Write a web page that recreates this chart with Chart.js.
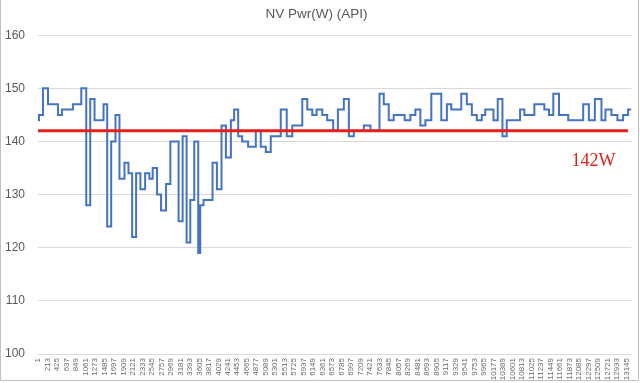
<!DOCTYPE html>
<html>
<head>
<meta charset="utf-8">
<script src="https://cdn.jsdelivr.net/npm/chart.js@4"></script>
<style>
  html, body { margin: 0; padding: 0; background: #ffffff; }
  #wrap { width: 640px; height: 383px; position: relative; }
</style>
</head>
<body>
<div id="wrap"><canvas id="c" width="640" height="383"></canvas></div>
<script>
// ---- data ----
const chartTitle = 'NV Pwr(W) (API)';
// sample index where each power level begins
const stepStarts = [
  1, 23, 112, 224, 447, 536, 781, 968, 1079, 1168,
  1264, 1465, 1547, 1636, 1732, 1821, 1933, 2022, 2104, 2193,
  2289, 2394, 2490, 2563, 2661, 2750, 2862, 2958, 3142, 3232,
  3321, 3403, 3492, 3581, 3626, 3699, 3900, 3998, 4101, 4199,
  4310, 4383, 4473, 4562, 4695, 4867, 4978, 5090, 5201, 5424,
  5558, 5682, 5905, 6017, 6128, 6226, 6351, 6462, 6596, 6701,
  6834, 6946, 7057, 7280, 7429, 7630, 7726, 7837, 7948, 8193,
  8320, 8432, 8543, 8655, 8788, 9011, 9136, 9234, 9457, 9581,
  9693, 9804, 9916, 9992, 10176, 10272, 10377, 10473, 10771, 10867,
  11090, 11313, 11417, 11513, 11640, 11847, 12181, 12308, 12442, 12589,
  12678, 12812, 12946, 13073, 13184
];
// power (W) of each level
const stepValues = [
  144, 145, 150, 147, 145, 146, 147, 150, 128, 148,
  144, 147, 124, 140, 145, 133, 136, 134, 122, 134,
  131, 134, 133, 135, 130, 127, 132, 140, 125, 141,
  121, 129, 140, 119, 128, 129, 136, 131, 143, 137,
  144, 146, 141, 140, 139, 142, 139, 138, 141, 146,
  141, 143, 148, 146, 145, 146, 145, 144, 142, 146,
  148, 141, 142, 143, 142, 149, 147, 144, 145, 144,
  145, 146, 143, 144, 149, 144, 147, 146, 149, 147,
  145, 144, 145, 146, 144, 148, 141, 144, 146, 145,
  147, 146, 145, 149, 145, 144, 147, 144, 148, 144,
  146, 145, 144, 145, 146
];
const lastSample = 13258;
// x tick labels (every 212 samples)
const tickLabels = [];
for (let v = 1; v <= 13145; v += 212) tickLabels.push(v);
const yTicks = [100, 110, 120, 130, 140, 150, 160];
const refLineValue = 142;
const refLineLabel = refLineValue + 'W';

// ---- build series ----
const seriesPts = stepStarts.map((x, i) => ({ x: x, y: stepValues[i] }));
seriesPts.push({ x: lastSample, y: stepValues[stepValues.length - 1] });
const refPts = [{ x: 1, y: refLineValue }, { x: 13180, y: refLineValue }];

const bgBorder = {
  id: 'bgBorder',
  beforeDraw(chart) {
    const ctx = chart.ctx;
    ctx.save();
    ctx.fillStyle = '#ffffff';
    ctx.fillRect(0, 0, chart.width, chart.height);
    ctx.restore();
  },
  afterDraw(chart) {
    const ctx = chart.ctx;
    const ys = chart.scales.y, area = chart.chartArea;
    ctx.save();
    ctx.strokeStyle = '#bfbfbf';
    ctx.lineWidth = 1;
    ctx.beginPath();
    ctx.moveTo(0.5, 0); ctx.lineTo(0.5, 380.5);
    ctx.lineTo(638.5, 380.5); ctx.lineTo(638.5, 0);
    ctx.stroke();
    ctx.fillStyle = '#e3201b';
    ctx.font = '18px "Liberation Serif", "DejaVu Serif", serif';
    ctx.textAlign = 'center';
    ctx.textBaseline = 'alphabetic';
    ctx.fillText(refLineLabel, area.right - 38, ys.getPixelForValue(refLineValue) + 35);
    ctx.restore();
  }
};

new Chart(document.getElementById('c'), {
  type: 'line',
  data: {
    datasets: [
      {
        label: 'ref',
        data: refPts,
        borderColor: '#e3201b',
        borderWidth: 3,
        pointRadius: 0,
        order: 0
      },
      {
        label: 'NV Pwr(W)',
        data: seriesPts,
        borderColor: '#4472c4',
        borderWidth: 2,
        pointRadius: 0,
        stepped: 'before',
        order: 1
      }
    ]
  },
  plugins: [bgBorder],
  options: {
    responsive: false,
    animation: false,
    events: [],
    layout: { padding: { left: 0, right: 7, top: 0, bottom: 0 } },
    plugins: {
      legend: { display: false },
      tooltip: { enabled: false },
      title: {
        display: true,
        text: chartTitle,
        color: '#595959',
        font: { family: '"Liberation Sans", Arial, sans-serif', size: 13.5, weight: 'normal' },
        padding: { top: 6, bottom: 13 }
      }
    },
    scales: {
      x: {
        type: 'linear',
        min: 1,
        max: lastSample,
        grid: { display: false, drawTicks: false },
        border: { display: false },
        afterBuildTicks: (s) => { s.ticks = tickLabels.map(v => ({ value: v })); },
        afterFit: (s) => { s.height = 29; },
        ticks: {
          autoSkip: false,
          maxRotation: 90,
          minRotation: 90,
          padding: 4,
          color: '#6b6b6b',
          font: { family: '"Liberation Sans", Arial, sans-serif', size: 8 },
          callback: (v) => String(v)
        }
      },
      y: {
        min: 100,
        max: 160,
        afterBuildTicks: (s) => { s.ticks = yTicks.map(v => ({ value: v })); },
        afterFit: (s) => { s.width = 38; },
        grid: { color: '#d9d9d9', lineWidth: 1, drawTicks: false },
        border: { display: false },
        ticks: {
          padding: 13,
          color: '#595959',
          font: { family: '"Liberation Sans", Arial, sans-serif', size: 12 }
        }
      }
    }
  }
});
</script>
</body>
</html>
